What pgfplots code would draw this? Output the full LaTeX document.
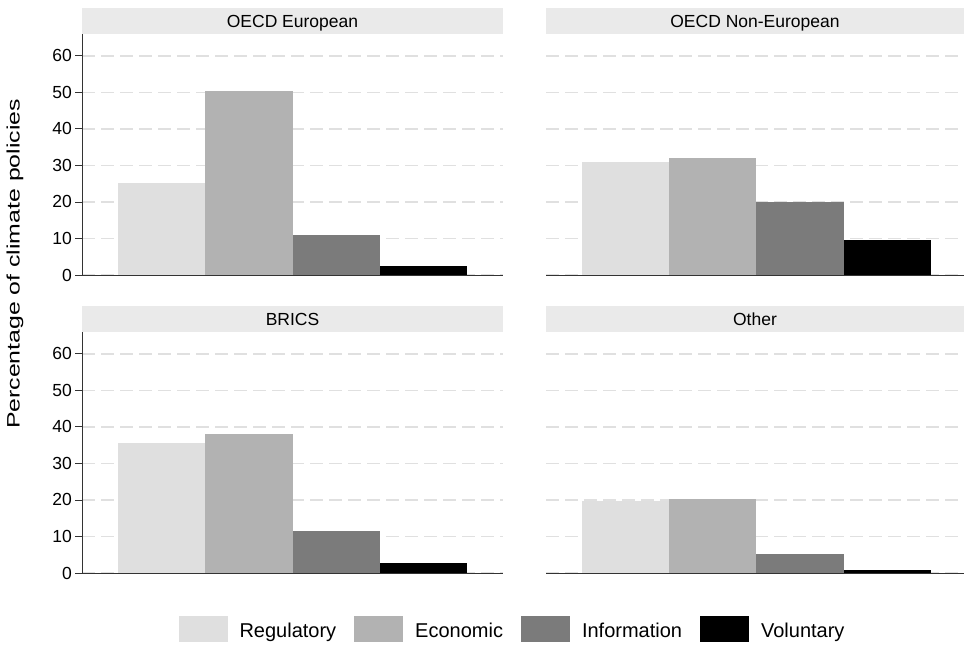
\documentclass[border=0pt]{standalone}
\usepackage{pgfplots}
\pgfplotsset{compat=1.18}
\usepackage{fontspec}
\setmainfont{Liberation Sans}
\definecolor{cReg}{HTML}{DFDFDF}
\definecolor{cEco}{HTML}{B2B2B2}
\definecolor{cInf}{HTML}{7B7B7B}
\definecolor{cVol}{HTML}{000000}
\definecolor{stripc}{HTML}{EAEAEA}
\definecolor{gridc}{HTML}{E0E0E0}
\pgfplotsset{
  panel/.style={
    scale only axis, width=421pt, height=241pt,
    xmin=0.09, xmax=4.91, ymin=0, ymax=66,
    xtick=\empty,
    ytick={0,10,20,30,40,50,60},
    ymajorgrids,
    major grid style={gridc, line width=1.2pt, dash pattern=on 13pt off 6pt},
    axis x line*=bottom, axis y line*=left,
    axis line style={-, line width=0.9pt, black!80},
    tick align=outside, major tick length=7pt,
    ytick style={black!80, line width=0.9pt},
    yticklabel style={font=\fontsize{17.5}{19}\selectfont, inner xsep=3pt},
    /pgf/number format/assume math mode=true,
    title style={at={(0.5,1)}, anchor=south, yshift=-6pt, fill=stripc,
      minimum width=421pt, text height=20pt, text depth=6pt, inner sep=0pt,
      font=\fontsize{17.5}{19}\selectfont},
  },
  rpanel/.style={panel, width=418pt, xmax=4.88,
    y axis line style={draw=none}, ytick style={draw=none}, yticklabels={},
    title style={minimum width=418pt}},
  b/.style={fill=#1, draw=none, ybar, bar width=1, bar shift=0pt},
}
\begin{document}
\begin{tikzpicture}
\useasboundingbox (0,0) rectangle (964pt,645pt);
% OECD European
\begin{axis}[panel, at={(82pt,370pt)}, anchor=south west, title={OECD European}]
\addplot[b=cReg] coordinates {(1,25.3)};
\addplot[b=cEco] coordinates {(2,50.3)};
\addplot[b=cInf] coordinates {(3,10.9)};
\addplot[b=cVol] coordinates {(4,2.6)};
\end{axis}
% OECD Non-European
\begin{axis}[rpanel, at={(546pt,370pt)}, anchor=south west, title={OECD Non-European}]
\addplot[b=cReg] coordinates {(1,30.9)};
\addplot[b=cEco] coordinates {(2,32.0)};
\addplot[b=cInf] coordinates {(3,20.1)};
\addplot[b=cVol] coordinates {(4,9.6)};
\end{axis}
% BRICS
\begin{axis}[panel, at={(82pt,72pt)}, anchor=south west, title={BRICS},
  legend style={at={(1.0202,-0.231)}, anchor=center, draw=none, fill=none,
    legend columns=4, font=\fontsize{20}{22}\selectfont,
    nodes={inner xsep=0pt},
    /tikz/every odd column/.append style={column sep=12pt},
    /tikz/every even column/.append style={column sep=18pt}},
  legend image code/.code={\fill[#1] (0pt,-11pt) rectangle (49pt,15pt);}]
\addplot[b=cReg] coordinates {(1,35.5)};
\addlegendentry{Regulatory}
\addplot[b=cEco] coordinates {(2,38.1)};
\addlegendentry{Economic}
\addplot[b=cInf] coordinates {(3,11.6)};
\addlegendentry{Information}
\addplot[b=cVol] coordinates {(4,2.7)};
\addlegendentry{Voluntary}
\end{axis}
% Other
\begin{axis}[rpanel, at={(546pt,72pt)}, anchor=south west, title={Other}]
\addplot[b=cReg] coordinates {(1,19.6)};
\addplot[b=cEco] coordinates {(2,20.4)};
\addplot[b=cInf] coordinates {(3,5.3)};
\addplot[b=cVol] coordinates {(4,0.7)};
\end{axis}
\node[rotate=90, font=\fontsize{18}{20}\selectfont] at (15pt,381pt)
  {\scalebox{1.38}[1]{Percentage of climate policies}};
\end{tikzpicture}
\end{document}
